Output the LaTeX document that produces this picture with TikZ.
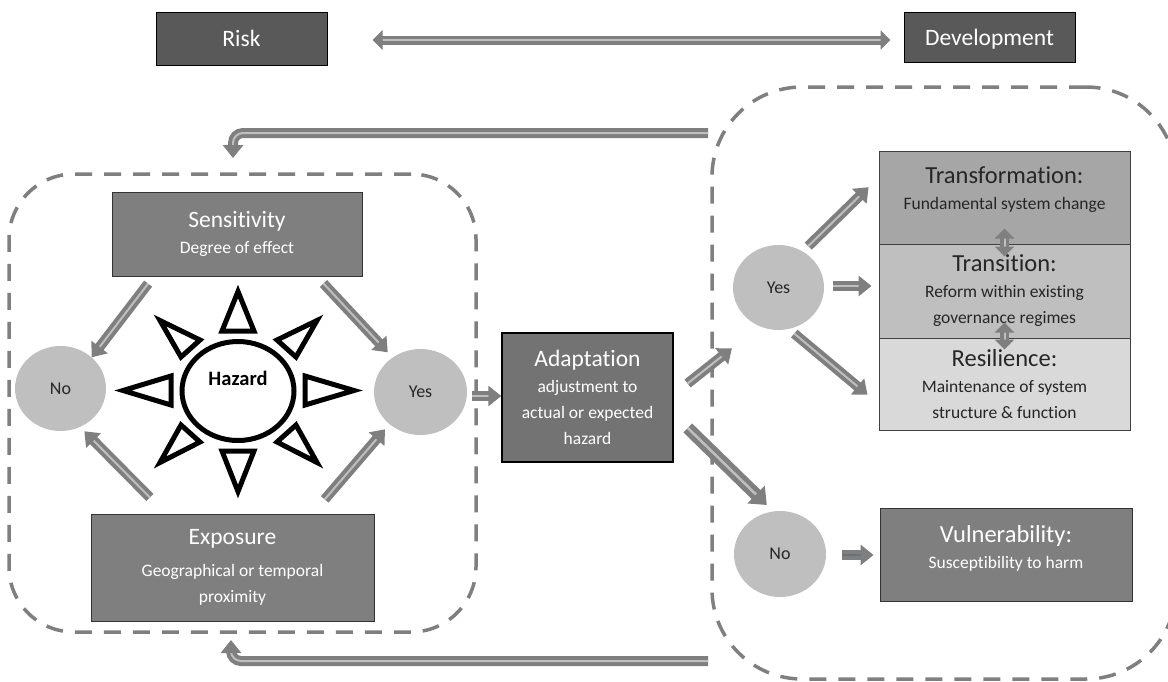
\documentclass[tikz,border=0pt]{standalone}
\usepackage{fontspec}
\setmainfont[Ligatures=NoCommon]{Carlito}
\usetikzlibrary{arrows.meta,shapes.geometric}
\definecolor{riskgray}{HTML}{595959}
\definecolor{boxgray}{HTML}{7F7F7F}
\definecolor{circlegray}{HTML}{BFBFBF}
\definecolor{slategray}{HTML}{66737F}
\newcommand{\boxhead}[1]{{\fontsize{24.5}{26}\selectfont #1}}
\newcommand{\smallhead}[1]{{\fontsize{23.5}{26}\selectfont #1}}
\tikzset{
    darkbox/.style={draw=black!80, line width=1pt, fill=boxgray, text=white, align=center, font=\fontsize{17.5}{26}\selectfont},
    lightbox/.style={draw=black!75, line width=1pt, text=black!85, align=center, font=\fontsize{17.5}{26}\selectfont},
    topbox/.style={darkbox, fill=riskgray, draw=black, minimum width=171pt, font=\fontsize{23.5}{26}\selectfont, text height=18pt, text depth=2pt},
    answer/.style={ellipse, fill=circlegray, inner sep=0pt, font=\fontsize{18}{20}\selectfont, text=black!85},
    groupbox/.style={draw=boxgray, line width=3.5pt, dash pattern=on 17pt off 12pt},
    blockarrow/.style={draw=boxgray, line width=4pt, double=circlegray, double distance=2pt, -{Triangle[width=20pt,length=13pt]}},
    bothways/.style={blockarrow, line width=3.5pt, {Triangle[width=19pt,length=10pt]}-{Triangle[width=19pt,length=10pt]}},
    ray/.style={draw=black, line width=5pt, fill=white, miter limit=10}
}
\begin{document}
\begin{tikzpicture}[x=1pt, y=-1pt]
    \useasboundingbox (0,0) rectangle (1168,681);
    \begin{scope}
    \clip (0,0) rectangle (1168,681);
    \node[groupbox, rounded corners=65pt, minimum width=467pt, minimum height=458pt] (hazardgroup) at (242.5,403) {};
    \node[groupbox, rounded corners=90pt, minimum width=464pt, minimum height=592pt] (responsegroup) at (944,383) {};
    \end{scope}

    \node[topbox, minimum height=53pt] (risk) at (241.5,38.5) {Risk};
    \node[topbox, minimum height=50pt] (development) at (989.5,37) {Development};

    \node[darkbox, minimum width=250pt, minimum height=84pt] (sensitivity) at (237,234) {\smallhead{Sensitivity}\\Degree of effect};
    \node[darkbox, minimum width=283pt, minimum height=107pt] (exposure) at (232.5,567.5) {\smallhead{Exposure}\\[6pt]Geographical or temporal\\proximity};
    \node[darkbox, fill=black!55, draw=black, line width=1.5pt, minimum width=171pt, minimum height=129pt] (adaptation) at (587.5,397.5) {\smallhead{Adaptation}\\adjustment to\\actual or expected\\hazard};
    \node[lightbox, fill=black!35, minimum width=251pt, minimum height=93pt] (transformation) at (1004.5,197.5) {\boxhead{Transformation:}\\Fundamental system change\\[-8pt]\mbox{}};
    \node[lightbox, fill=black!25, minimum width=251pt, minimum height=94pt] (transition) at (1004.5,291) {\boxhead{Transition:}\\Reform within existing\\governance regimes};
    \node[lightbox, fill=black!15, minimum width=251pt, minimum height=92pt] (resilience) at (1004.5,384) {\boxhead{Resilience:}\\Maintenance of system\\structure \& function};
    \node[darkbox, minimum width=252pt, minimum height=93pt] (vulnerability) at (1006,554.5) {\boxhead{Vulnerability:}\\Susceptibility to harm\\[-10pt]\mbox{}};

    \node[answer, minimum width=91pt, minimum height=85pt] (leftno) at (60.5,388.5) {No};
    \node[answer, minimum width=93pt, minimum height=86pt] (leftyes) at (420.5,392) {Yes};
    \node[answer, minimum width=91pt, minimum height=85pt] (rightyes) at (778.5,287.5) {Yes};
    \node[answer, minimum width=92pt, minimum height=86pt] (rightno) at (780,554) {No};

    % sun
    \node[ellipse, draw=black, line width=5pt, fill=white, minimum width=112pt, minimum height=99pt] (hazard) at (238,391) {};
    \node[font=\fontsize{20.5}{24}\selectfont\bfseries] (hazardlabel) at (238,378) {Hazard};
    \foreach \ax/\ay/\bx/\by/\cx/\cy in {
        238/291.5/222/331/254/331,
        238/491.5/222/451/254/451,
        123/390.5/171/376/171/405,
        354/390.5/305/376/305/405,
        160/320.5/200/340/181/357,
        317/320.5/277/340/296/357,
        160/462.5/200/442/181/425,
        317/462.5/277/442/296/425}
        \draw[ray] (\ax,\ay) -- (\bx,\by) -- (\cx,\cy) -- cycle;

    \draw[bothways, shorten <=45pt, shorten >=13pt] ([yshift=-1.5pt]risk.east) -- ([yshift=-1.5pt]risk.east -| development.west);

    \draw[blockarrow, shorten <=9pt] (sensitivity.207.9) -- (leftno.45);
    \draw[blockarrow, shorten <=9.6pt, shorten >=7pt] (sensitivity.332.1) -- (leftyes.129);
    \draw[blockarrow, shorten <=22.6pt, shorten >=6pt] (exposure.141.1) -- (leftno.297.3);
    \draw[blockarrow, shorten <=18.6pt, shorten >=6.7pt] (exposure.34.3) -- (leftyes.226.2);
    \draw[blockarrow, shorten <=5pt] ([yshift=-4pt]leftyes.east) -- ([yshift=-4pt]leftyes.east -| adaptation.west);

    \draw[blockarrow, shorten <=17.7pt, shorten >=35.3pt] (adaptation.2.4) -- (rightyes.244.4);
    \draw[blockarrow, line width=5pt, double distance=2.5pt, -{Triangle[width=24pt,length=15pt]}, shorten <=19.6pt, shorten >=9pt] (adaptation.349.5) -- (rightno.99.2);

    \draw[blockarrow, shorten <=7.5pt, shorten >=13.8pt] (rightyes.56) -- (transformation.171.4);
    \draw[blockarrow, shorten <=9pt, shorten >=7pt] ([yshift=1.5pt]rightyes.east) -- ([yshift=1.5pt]rightyes.east -| transition.west);
    \draw[blockarrow, shorten <=7pt, shorten >=14.3pt] (rightyes.284.5) -- (resilience.189.6);
    \draw[blockarrow, draw=boxgray, double=slategray, shorten <=16pt, shorten >=6pt] ([yshift=-1pt]rightno.east) -- ([yshift=-1pt]rightno.east -| vulnerability.west);

    \draw[bothways] ([yshift=16pt]transformation.south) -- ([yshift=-13pt]transition.north);
    \draw[bothways] ([yshift=16pt]transition.south) -- ([yshift=-12pt]resilience.north);

    % feedback
    \coordinate (topstart) at (708,133);
    \coordinate (topend) at (233,158);
    \coordinate (bottomstart) at (708,661);
    \coordinate (bottomend) at (231,640);
    \draw[blockarrow, rounded corners=10pt] (topstart) -| (topend);
    \draw[blockarrow, rounded corners=10pt] (bottomstart) -| (bottomend);
\end{tikzpicture}
\end{document}
